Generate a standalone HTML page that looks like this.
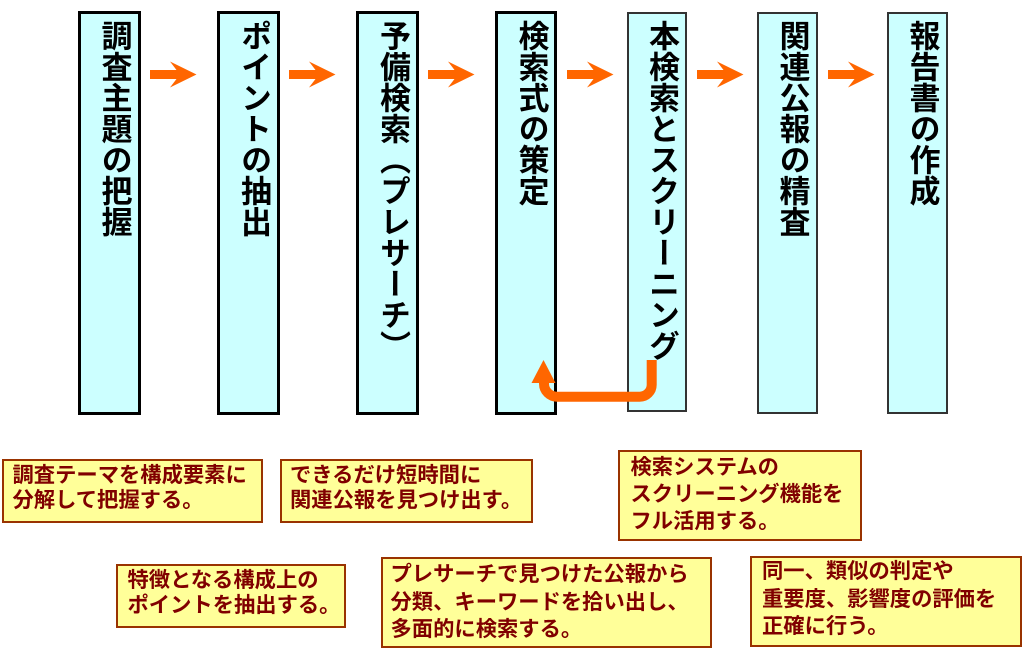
<!DOCTYPE html>
<html lang="ja">
<head>
<meta charset="utf-8">
<style>
  html, body { margin:0; padding:0; }
  body {
    width:1024px; height:654px; overflow:hidden; position:relative;
    background:#ffffff;
    font-family:"Liberation Sans","Noto Sans CJK JP",sans-serif;
  }
  .col {
    position:absolute; box-sizing:border-box;
    background:#ccffff;
  }
  .thick { border:3px solid #000; }
  .thin { border:2px solid #333; }
  .vt {
    position:absolute; top:20px;
    writing-mode:vertical-rl;
    font-size:31px; line-height:31px; font-weight:bold;
    color:#000; white-space:nowrap;
  }
  .box {
    position:absolute; box-sizing:border-box;
    background:#ffff99; border:2px solid #993300;
  }
  .bt {
    position:absolute; white-space:nowrap;
    font-size:21.3px; font-weight:bold; color:#800000;
  }
  svg { position:absolute; left:0; top:0; }
</style>
</head>
<body>

<!-- columns -->
<div class="col thick" style="left:78px;top:11px;width:63px;height:404px;"></div>
<div class="col thick" style="left:217px;top:11px;width:63px;height:404px;"></div>
<div class="col thick" style="left:356px;top:11px;width:63px;height:404px;"></div>
<div class="col thick" style="left:495px;top:11px;width:62px;height:404px;"></div>
<div class="col thin" style="left:627px;top:12px;width:60px;height:400px;"></div>
<div class="col thin" style="left:757px;top:12px;width:61px;height:402px;"></div>
<div class="col thin" style="left:887px;top:12px;width:61px;height:402px;"></div>

<!-- vertical labels -->
<div class="vt" style="left:98.5px;">調査主題の把握</div>
<div class="vt" style="left:238px;">ポイントの抽出</div>
<div class="vt" style="left:377px;">予備検索（プレサーチ）</div>
<div class="vt" style="left:515.5px;">検索式の策定</div>
<div class="vt" style="left:646px;">本検索とスクリーニング</div>
<div class="vt" style="left:776.5px;">関連公報の精査</div>
<div class="vt" style="left:906.5px;">報告書の作成</div>

<!-- bottom boxes -->
<div class="box" style="left:2px;top:459px;width:261px;height:64px;"></div>
<div class="bt" style="left:12.5px;top:463px;line-height:25px;">調査テーマを構成要素に<br>分解して把握する。</div>

<div class="box" style="left:280px;top:459px;width:253px;height:64px;"></div>
<div class="bt" style="left:290px;top:463px;line-height:25px;">できるだけ短時間に<br>関連公報を見つけ出す。</div>

<div class="box" style="left:116px;top:564px;width:230px;height:64px;"></div>
<div class="bt" style="left:127.5px;top:567.5px;line-height:25px;">特徴となる構成上の<br>ポイントを抽出する。</div>

<div class="box" style="left:381px;top:557px;width:331px;height:91px;"></div>
<div class="bt" style="left:390.5px;top:561px;line-height:27.6px;">プレサーチで見つけた公報から<br>分類、キーワードを拾い出し、<br>多面的に検索する。</div>

<div class="box" style="left:618px;top:450px;width:244px;height:91px;"></div>
<div class="bt" style="left:630.5px;top:454px;line-height:27.2px;">検索システムの<br>スクリーニング機能を<br>フル活用する。</div>

<div class="box" style="left:750px;top:556px;width:272px;height:91px;"></div>
<div class="bt" style="left:762px;top:558px;line-height:27.5px;">同一、類似の判定や<br>重要度、影響度の評価を<br>正確に行う。</div>

<!-- arrows -->
<svg width="1024" height="654" viewBox="0 0 1024 654" xmlns="http://www.w3.org/2000/svg">
  <g fill="#ff6600">
    <polygon points="150,70 176.5,70 170,61.5 196.5,74.5 170,87.5 176.5,79 150,79"/>
    <polygon points="289,70 315.5,70 309,61.5 335.5,74.5 309,87.5 315.5,79 289,79"/>
    <polygon points="428,70 454.5,70 448,61.5 474.5,74.5 448,87.5 454.5,79 428,79"/>
    <polygon points="567,70 593.5,70 587,61.5 613.5,74.5 587,87.5 593.5,79 567,79"/>
    <polygon points="697,70 723.5,70 717,61.5 743.5,74.5 717,87.5 723.5,79 697,79"/>
    <polygon points="828,70 854.5,70 848,61.5 874.5,74.5 848,87.5 854.5,79 828,79"/>
  </g>
  <path d="M651.7,360 L651.7,384.7 A12,12 0 0 1 639.7,396.7 L557,396.7 A13,13 0 0 1 544,383.7 L544,378"
        fill="none" stroke="#ff6600" stroke-width="10"/>
  <polygon points="531.5,383 543.5,360 555.5,383" fill="#ff6600"/>
</svg>

</body>
</html>
